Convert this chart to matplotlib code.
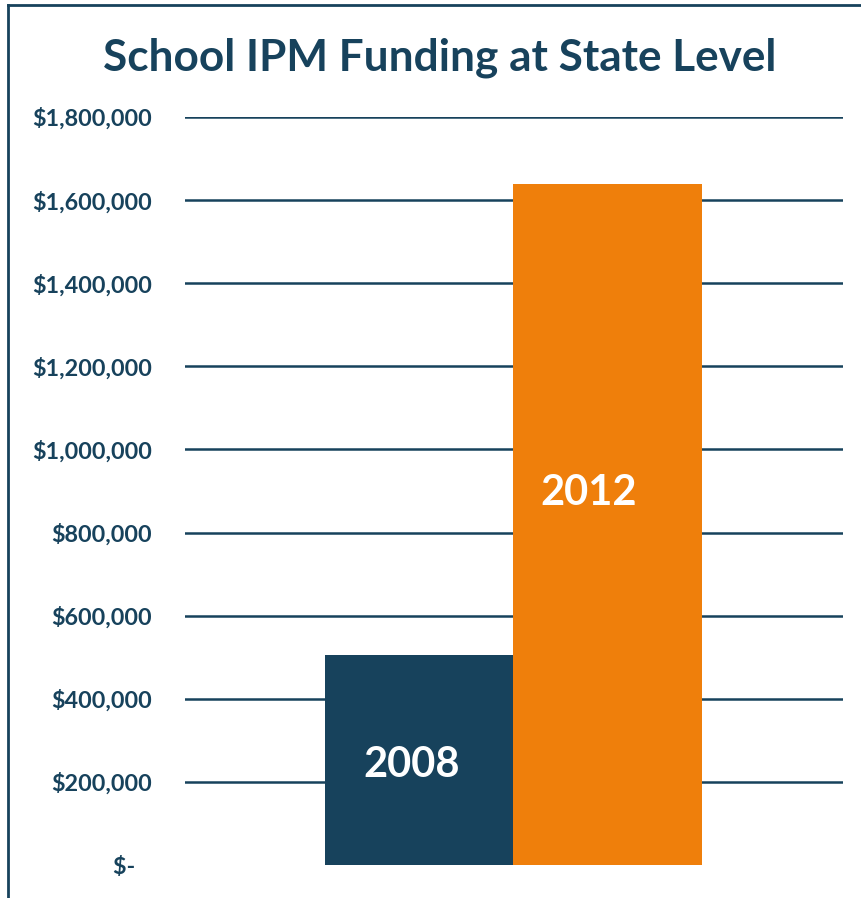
import matplotlib.pyplot as plt
from matplotlib.lines import Line2D

years = ['2008', '2012']
funding = [505000, 1640000]
bar_colors = ['#17425c', '#ef7f0b']
yticks = [0, 200000, 400000, 600000, 800000, 1000000, 1200000, 1400000, 1600000, 1800000]
ytick_labels = ['$-   ', '$200,000', '$400,000', '$600,000', '$800,000', '$1,000,000',
                '$1,200,000', '$1,400,000', '$1,600,000', '$1,800,000']

navy = '#17425c'
plt.rcParams['font.family'] = ['Lato', 'DejaVu Sans']

fig = plt.figure(figsize=(8.62, 8.98), dpi=100)
ax = fig.add_axes([0.2146, 0.0367, 0.978 - 0.2146, 0.8697 - 0.0367])

xpos = [0, 1]
ax.bar(xpos, funding, width=1.0, color=bar_colors, zorder=3)
ax.set_xlim(-1.241, 2.249)
ax.set_ylim(0, 1800000)

ax.set_yticks(yticks)
ax.set_yticklabels(ytick_labels, fontsize=16.8, fontweight='bold', color=navy)
ax.tick_params(axis='y', length=0, pad=24)
ax.set_xticks([])
for g in yticks[1:]:
    ax.axhline(g, color=navy, lw=1.8, zorder=1)
for s in ax.spines.values():
    s.set_visible(False)

# labels inside bars
ax.text(xpos[0] - 0.04, 240000, years[0], color='white', fontsize=30, fontweight='bold',
        ha='center', va='center', zorder=4)
ax.text(xpos[1] - 0.1, 895000, years[1], color='white', fontsize=30, fontweight='bold',
        ha='center', va='center', zorder=4)

fig.text(0.510, 0.936, 'School IPM Funding at State Level', fontsize=31.8, fontweight='bold',
         color=navy, ha='center', va='center')

# frame on left and top
fig.add_artist(Line2D([8 / 862, 8 / 862], [0, 1 - 5 / 898], color=navy, lw=2, transform=fig.transFigure))
fig.add_artist(Line2D([8 / 862, 1], [1 - 5 / 898, 1 - 5 / 898], color=navy, lw=2, transform=fig.transFigure))

fig.savefig('out.png', dpi=100, facecolor='white')
